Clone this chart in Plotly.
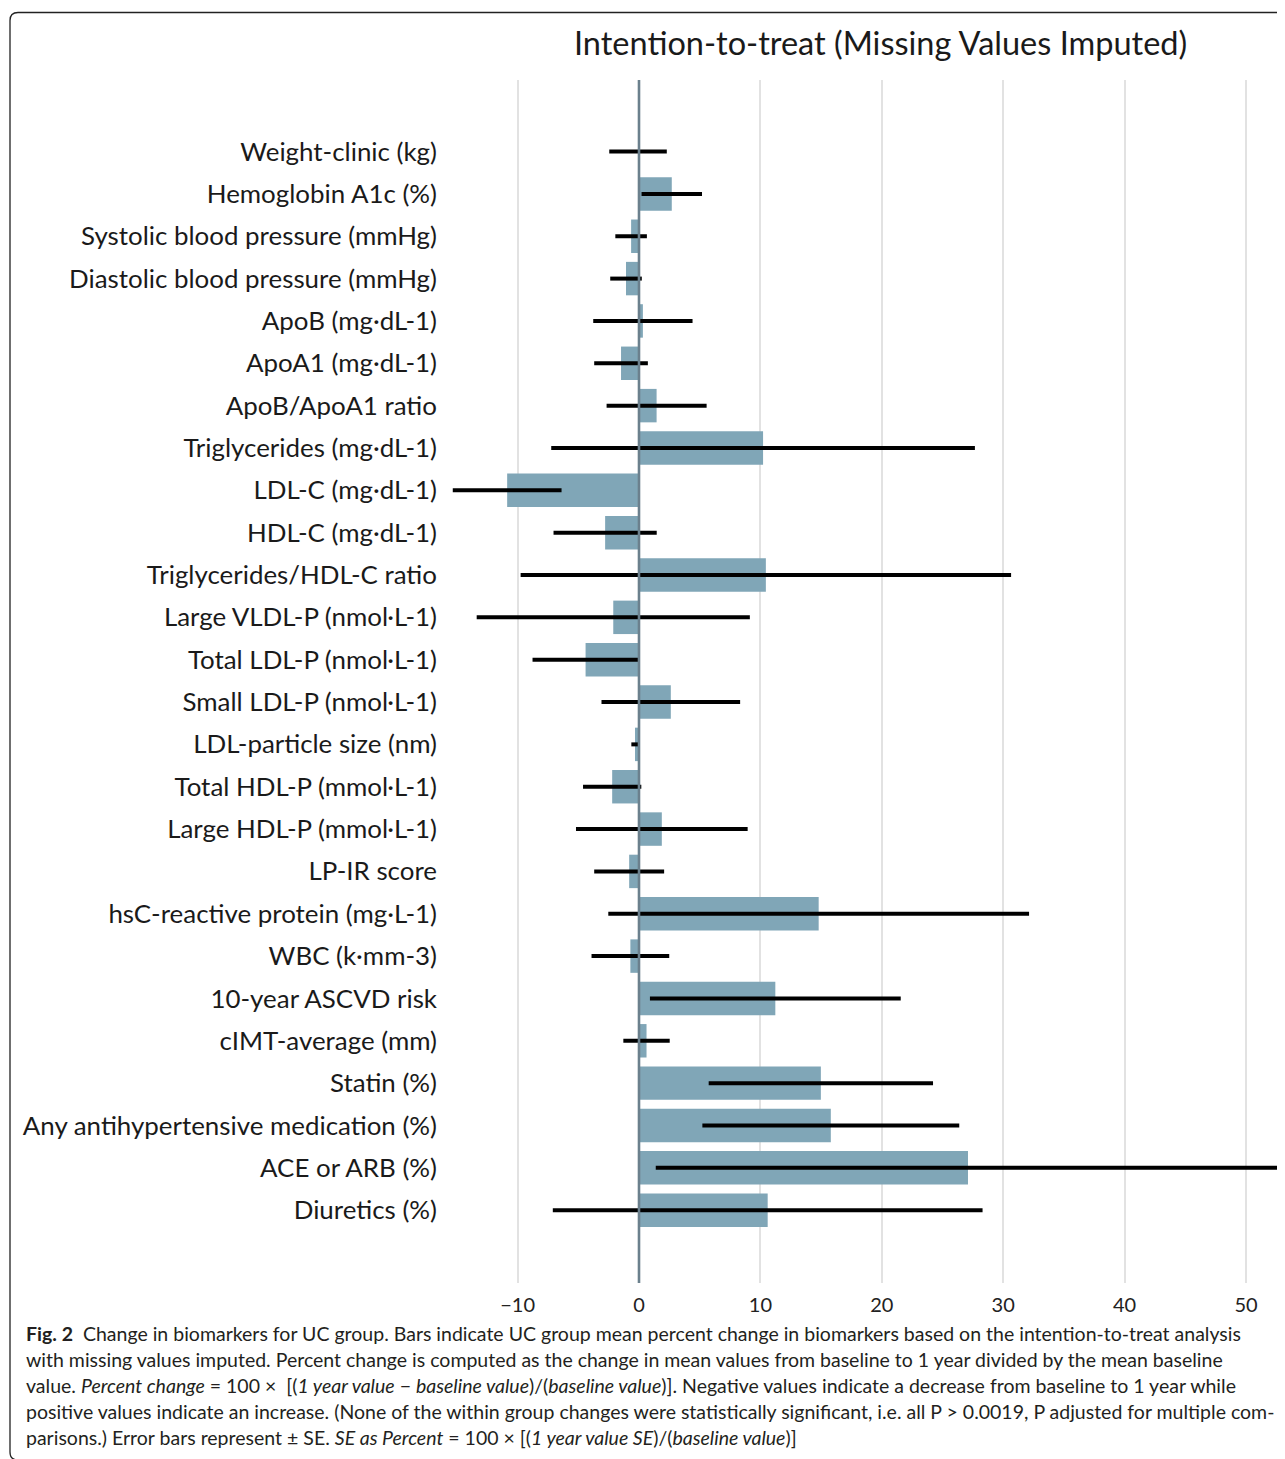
import plotly.graph_objects as go

categories = [
    "Weight-clinic (kg)",
    "Hemoglobin A1c (%)",
    "Systolic blood pressure (mmHg)",
    "Diastolic blood pressure (mmHg)",
    "ApoB (mg·dL-1)",
    "ApoA1 (mg·dL-1)",
    "ApoB/ApoA1 ratio",
    "Triglycerides (mg·dL-1)",
    "LDL-C (mg·dL-1)",
    "HDL-C (mg·dL-1)",
    "Triglycerides/HDL-C ratio",
    "Large VLDL-P (nmol·L-1)",
    "Total LDL-P (nmol·L-1)",
    "Small LDL-P (nmol·L-1)",
    "LDL-particle size (nm)",
    "Total HDL-P (mmol·L-1)",
    "Large HDL-P (mmol·L-1)",
    "LP-IR score",
    "hsC-reactive protein (mg·L-1)",
    "WBC (k·mm-3)",
    "10-year ASCVD risk",
    "cIMT-average (mm)",
    "Statin (%)",
    "Any antihypertensive medication (%)",
    "ACE or ARB (%)",
    "Diuretics (%)",
]

pct_change = [
    -0.08, 2.70, -0.65, -1.07, 0.32, -1.48, 1.45, 10.22, -10.86,
    -2.79, 10.45, -2.12, -4.40, 2.62, -0.33, -2.21, 1.88, -0.81,
    14.80, -0.71, 11.23, 0.62, 14.98, 15.80, 27.10, 10.60,
]

se_pct = [
    2.37, 2.49, 1.30, 1.30, 4.09, 2.21, 4.12, 17.45, 4.48,
    4.25, 20.20, 11.25, 4.37, 5.71, 0.30, 2.40, 7.07, 2.88,
    17.33, 3.20, 10.33, 1.91, 9.24, 10.58, 25.72, 17.70,
]

x_ticks = [-10, 0, 10, 20, 30, 40, 50]

title_text = "Intention-to-treat (Missing Values Imputed)"
caption_lines = [
    "<b>Fig. 2</b>  Change in biomarkers for UC group. Bars indicate UC group mean percent change in biomarkers based on the intention-to-treat analysis",
    "with missing values imputed. Percent change is computed as the change in mean values from baseline to 1 year divided by the mean baseline",
    "value. <i>Percent change</i> = 100 ×  [(<i>1 year value</i> − <i>baseline value</i>)/(<i>baseline value</i>)]. Negative values indicate a decrease from baseline to 1 year while",
    "positive values indicate an increase. (None of the within group changes were statistically significant, i.e. all P > 0.0019, P adjusted for multiple com-",
    "parisons.) Error bars represent ± SE. <i>SE as Percent</i> = 100 × [(<i>1 year value SE</i>)/(<i>baseline value</i>)]",
]

# page geometry (browser body has an 8px margin)
OFF = 8
PAGE_W, PAGE_H = 1285, 1459
PLOT_X0, PLOT_X1 = 445, 1281
PLOT_Y0, PLOT_Y1 = 80, 1283
W, H = PAGE_W - OFF, PAGE_H - OFF
L, R = PLOT_X0 - OFF, PAGE_W - PLOT_X1
T, B = PLOT_Y0 - OFF, PAGE_H - PLOT_Y1
PW = PLOT_X1 - PLOT_X0
PH = PLOT_Y1 - PLOT_Y0
ZERO_PX, PX_PER_UNIT = 639, 12.14


def px_x(px):
    return (px - PLOT_X0) / PW


def px_y(py):
    return (PLOT_Y1 - py) / PH


fig = go.Figure()
fig.add_trace(go.Bar(
    x=pct_change,
    y=categories,
    orientation="h",
    marker=dict(color="#80A6B7", line=dict(width=0)),
    width=0.79,
    error_x=dict(type="data", array=se_pct, symmetric=True,
                 color="black", thickness=4, width=0),
    showlegend=False,
    hoverinfo="x+y",
))

label_font = "Lato, 'Open Sans', sans-serif"

annotations = [
    dict(text=title_text, xref="paper", yref="paper",
         x=px_x(880), y=px_y(43), xanchor="center", yanchor="middle",
         showarrow=False,
         font=dict(family=label_font, size=32.5, color="#1a1a1a")),
]
for i, line in enumerate(caption_lines):
    annotations.append(dict(
        text=line, xref="paper", yref="paper",
        x=px_x(24), y=px_y(1333 + 26 * i), xanchor="left", yanchor="middle",
        align="left", showarrow=False,
        font=dict(family=label_font, size=19.5, color="#231F20"),
    ))

fig.update_layout(
    width=W, height=H,
    margin=dict(l=L, r=R, t=T, b=B, pad=0),
    paper_bgcolor="white",
    plot_bgcolor="white",
    xaxis=dict(
        range=[(PLOT_X0 - ZERO_PX) / PX_PER_UNIT, (PLOT_X1 - ZERO_PX) / PX_PER_UNIT],
        tickvals=x_ticks,
        showgrid=True, gridcolor="#E2E2E2", gridwidth=2,
        zeroline=False,
        showline=False,
        ticks="",
        ticklabelstandoff=8,
        tickfont=dict(family=label_font, size=20, color="#222222"),
    ),
    yaxis=dict(
        categoryorder="array",
        categoryarray=categories,
        range=[26.72, -1.69],
        showgrid=False, zeroline=False, showline=False, ticks="",
        tickfont=dict(family=label_font, size=25.9, color="#1a1a1a"),
        ticklabelstandoff=7,
    ),
    shapes=[
        dict(type="line", xref="x", yref="paper", x0=0, x1=0, y0=0, y1=1,
             line=dict(color="#6B808D", width=2.6), layer="above"),
        dict(type="path", xref="paper", yref="paper", layer="above",
             path=(f"M {px_x(1300)},{px_y(12.5)} L {px_x(18)},{px_y(12.5)} "
                   f"Q {px_x(10)},{px_y(12.5)} {px_x(10)},{px_y(20.5)} "
                   f"L {px_x(10)},{px_y(1452)} Q {px_x(10)},{px_y(1460)} {px_x(18)},{px_y(1460)}"),
             line=dict(color="#222222", width=1.3)),
    ],
    annotations=annotations,
)

fig.write_html("out.html")
